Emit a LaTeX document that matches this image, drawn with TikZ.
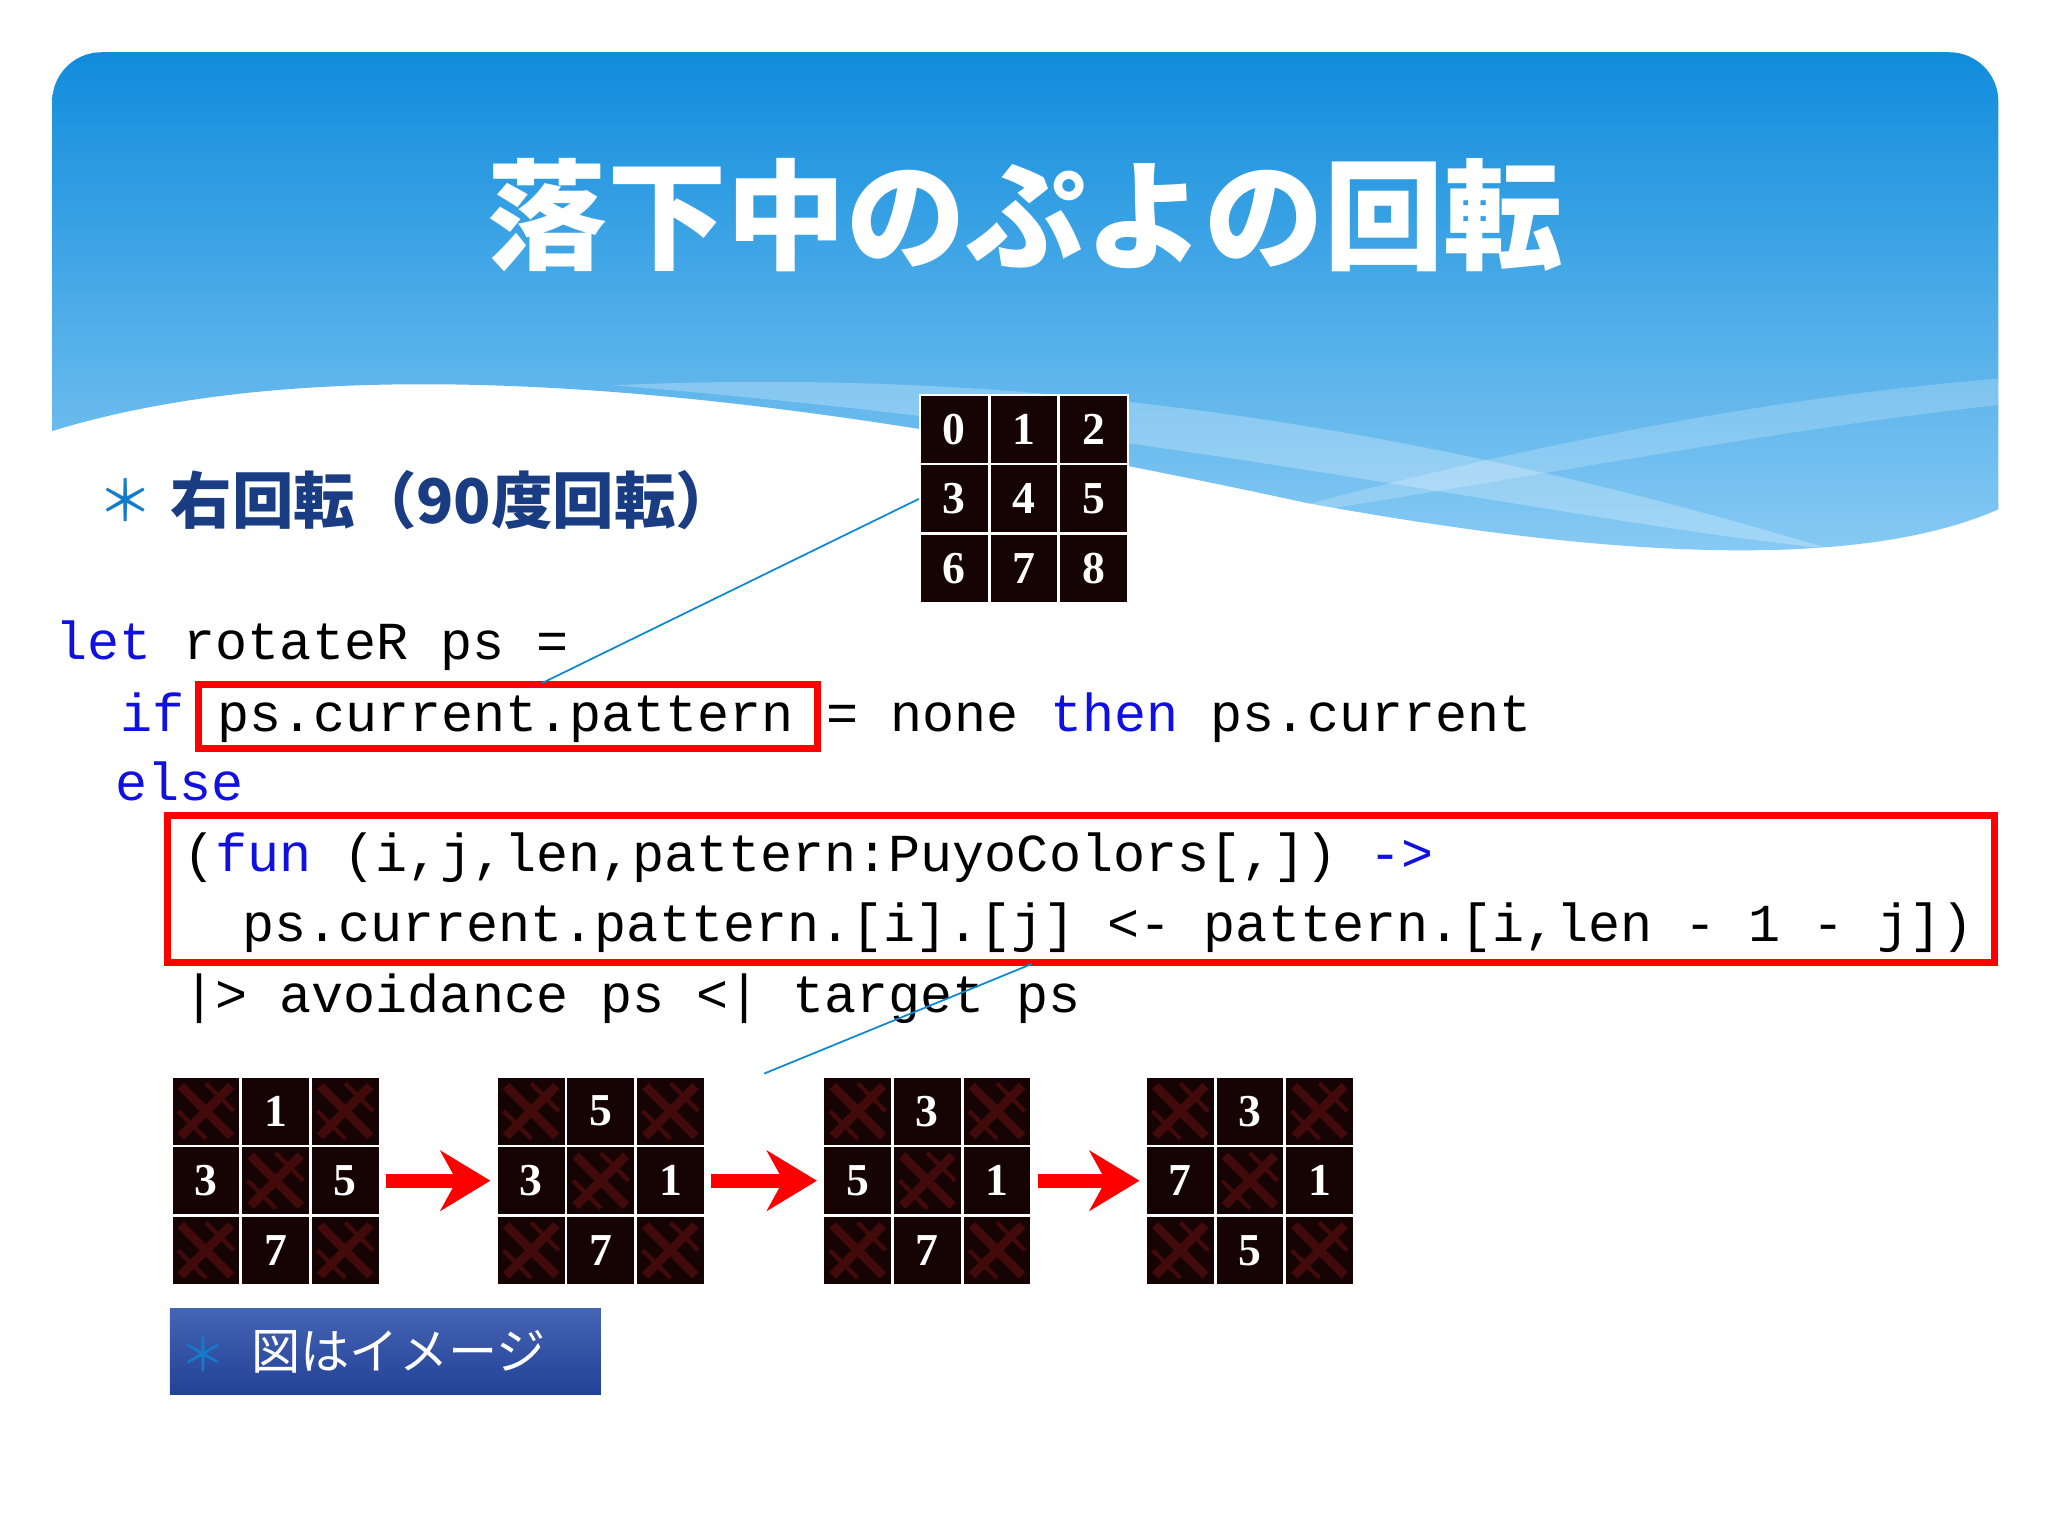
\documentclass[tikz,border=0pt]{standalone}
\usepackage{fontspec}
\newfontfamily\cjk{Noto Sans CJK JP}
\newfontfamily\numf{Liberation Serif}
\setmonofont{Liberation Mono}
\definecolor{kw}{HTML}{1010E0}
\definecolor{cellbg}{HTML}{160303}
\definecolor{cellx}{HTML}{420A0A}
\tikzset{
  cellbox/.style={draw=white,line width=0.6pt,fill=cellbg,minimum size=0.69cm,inner sep=0pt},
  num/.style={text=white,font=\numf\bfseries\fontsize{13}{13}\selectfont},
  code/.style={anchor=base west,inner sep=0pt,font=\ttfamily\fontsize{15.2}{15.2}\selectfont},
  redbox/.style={draw=red,line width=2pt},
  conn/.style={draw=cyan!70!blue,line width=0.5pt},
}
\usetikzlibrary{arrows.meta,calc}
\newcommand{\kw}[1]{\textcolor{kw}{#1}}
\newcommand{\puyogrid}[4]{%
  \foreach \lab [count=\i from 0] in {#4} {
    \pgfmathtruncatemacro{\r}{int(\i/3)}
    \pgfmathtruncatemacro{\c}{mod(\i,3)}
    \node[cellbox] (#1-\i) at ({#2+26.7+53.3*\c},{#3+26.7+53.3*\r}) {};
    \if x\lab
      \draw[cellx,line width=2.5pt] ($(#1-\i.north west)+(8,8)$) -- ($(#1-\i.south east)+(-8,-8)$);
      \draw[cellx,line width=2.5pt] ($(#1-\i.north east)+(-8,8)$) -- ($(#1-\i.south west)+(8,-8)$);
      \draw[cellx,line width=1.2pt] ($(#1-\i.north)+(0,6)$) -- ($(#1-\i.east)+(-6,0)$);
      \draw[cellx,line width=1.2pt] ($(#1-\i.west)+(6,0)$) -- ($(#1-\i.south)+(0,-6)$);
    \else
      \node[num] at (#1-\i) {\lab};
    \fi
  }
}
\begin{document}
\begin{tikzpicture}[x=0.01306cm,y=-0.01306cm]
\useasboundingbox (0,0) rectangle (1568,1176);
\fill[white] (0,0) rectangle (1568,1176);
\shade[top color={rgb,255:red,16;green,140;blue,220},bottom color={rgb,255:red,140;green,205;blue,245}]
  (40,330) [rounded corners=14pt] -- (40,40) -- (1530,40) [sharp corners] -- (1530,390)
  .. controls (1450,425) and (1300,440) .. (1000,385)
  .. controls (700,320) and (300,250) .. (40,330) -- cycle;
\fill[white,opacity=0.25] (470,295) .. controls (800,280) and (1100,330) .. (1400,420)
  .. controls (1200,400) and (900,330) .. (470,295) -- cycle;
\fill[white,opacity=0.2] (950,400) .. controls (1200,330) and (1400,300) .. (1530,290)
  -- (1530,310) .. controls (1350,330) and (1150,370) .. (950,400) -- cycle;
\node[text=white,font=\cjk\bfseries\fontsize{34}{34}\selectfont] (title) at (785,165) {落下中のぷよの回転};
\node[text=cyan!60!blue,font=\cjk\fontsize{16}{16}\selectfont] (b1) at (96,383) {＊};
\node[anchor=west,inner sep=0pt,text={rgb,255:red,25;green,60;blue,130},font=\cjk\bfseries\fontsize{17.5}{17.5}\selectfont] (sub) at (130,383) {右回転（90度回転）};
\puyogrid{tg}{704}{302}{0,1,2,3,4,5,6,7,8}
\node[code] (l1) at (42,505) {\kw{let} rotateR ps =};
\node[code] (l2) at (92,560) {\kw{if} ps.current.pattern = none \kw{then} ps.current};
\node[code] (l3) at (88,613) {\kw{else}};
\node[code] (l4) at (140,667) {(\kw{fun} (i,j,len,pattern:PuyoColors[,]) \kw{->}};
\node[code] (l5) at (185,721) {ps.current.pattern.[i].[j] <- pattern.[i,len - 1 - j])};
\node[code] (l6) at (140,775) {|> avoidance ps <| target ps};
\draw[redbox] (152,524) rectangle (626,573);
\draw[redbox] (128,624) rectangle (1527,737);
\coordinate (c1) at (415,523);
\coordinate (c2) at (585,822);
\coordinate (c3) at (790,738);
\draw[conn] (c1) -- (tg-3.west);
\draw[conn] (c2) -- (c3);
\puyogrid{g1}{131}{824}{x,1,x,3,x,5,x,7,x}
\puyogrid{g2}{380}{824}{x,5,x,3,x,1,x,7,x}
\puyogrid{g3}{630}{824}{x,3,x,5,x,1,x,7,x}
\puyogrid{g4}{877}{824}{x,3,x,7,x,1,x,5,x}
\draw[red,line width=4pt,-{Stealth[length=5mm,width=6mm]}] ($(g1-5.east)+(4,0)$) -- ($(g2-3.west)+(-4,0)$);
\draw[red,line width=4pt,-{Stealth[length=5mm,width=6mm]}] ($(g2-5.east)+(4,0)$) -- ($(g3-3.west)+(-4,0)$);
\draw[red,line width=4pt,-{Stealth[length=5mm,width=6mm]}] ($(g3-5.east)+(4,0)$) -- ($(g4-3.west)+(-4,0)$);
\shade[top color={rgb,255:red,70;green,100;blue,180},bottom color={rgb,255:red,35;green,65;blue,150}] (130,1002) rectangle (460,1068);
\node[text=cyan!60!blue,font=\cjk\fontsize{13}{13}\selectfont] (b2) at (156,1037) {＊};
\node[anchor=west,inner sep=0pt,text=white,font=\cjk\fontsize{14}{14}\selectfont] (note) at (192,1035) {図はイメージ};
\end{tikzpicture}
\end{document}
